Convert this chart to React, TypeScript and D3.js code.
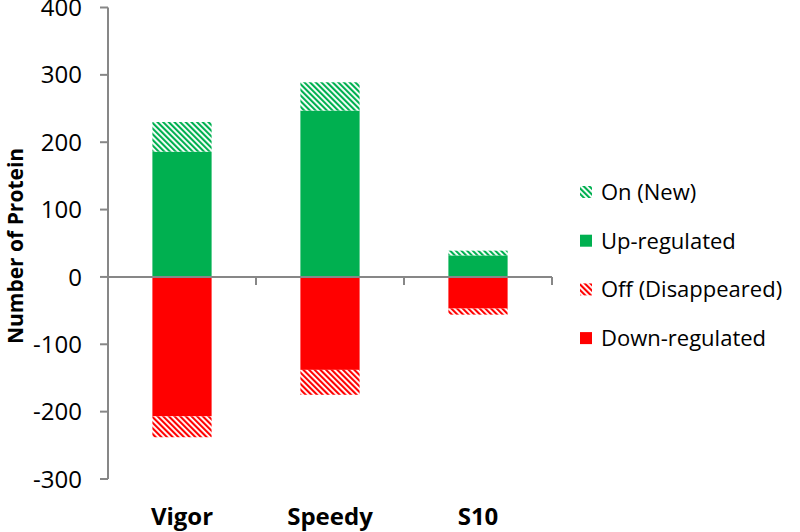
import React from "react";
import * as d3 from "d3";

const categories = ["Vigor", "Speedy", "S10"];
const onNew = [44, 42, 7];
const upRegulated = [186, 247, 32];
const offDisappeared = [-31, -37, -9];
const downRegulated = [-207, -138, -47];
const yTicks = [-300, -200, -100, 0, 100, 200, 300, 400];

const GREEN = "#00B050";
const RED = "#FF0000";
const AXIS = "#878787";
const FONT = "'Open Sans', sans-serif";

const seriesDefs = [
  { key: "up", label: "Up-regulated", values: upRegulated, color: GREEN, hatch: false },
  { key: "on", label: "On (New)", values: onNew, color: GREEN, hatch: true },
  { key: "down", label: "Down-regulated", values: downRegulated, color: RED, hatch: false },
  { key: "off", label: "Off (Disappeared)", values: offDisappeared, color: RED, hatch: true },
];
const legendOrder = ["on", "up", "off", "down"];

export default function App() {
  const W = 800, H = 532;
  const left = 108, right = 552, top = 7.5, bottom = 479;
  const x = d3.scaleBand().domain(categories).range([left, right]).paddingInner(0.6).paddingOuter(0.3);
  const xOuter = d3.scaleBand().domain(categories).range([left, right]);
  const y = d3.scaleLinear().domain([-300, 400]).range([bottom, top]);

  const rows = categories.map((c, i) => {
    const r: any = { cat: c };
    seriesDefs.forEach((s) => (r[s.key] = s.values[i]));
    return r;
  });
  const stack = d3.stack<any>().keys(seriesDefs.map((s) => s.key)).offset(d3.stackOffsetDiverging);
  const stacked = stack(rows);

  const fillFor = (s: any) => (s.hatch ? `url(#hatch-${s.key})` : s.color);

  return (
    <svg width={W} height={H} style={{ display: "block", position: "absolute", left: 0, top: 0 }}>
      <defs>
        {seriesDefs.filter((s) => s.hatch).map((s) => (
          <pattern key={s.key} id={`hatch-${s.key}`} patternUnits="userSpaceOnUse" width={4} height={4} patternTransform="rotate(-45)">
            <rect x={0} y={0} width={4} height={4} fill="#fff" />
            <rect x={0} y={0} width={2.1} height={4} fill={s.color} />
          </pattern>
        ))}
      </defs>
      <rect width={W} height={H} fill="#fff" />

      {stacked.map((layer, li) => {
        const s = seriesDefs[li];
        return layer.map((d, i) => {
          const y0 = y(Math.max(d[0], d[1]));
          const y1 = y(Math.min(d[0], d[1]));
          return (
            <rect key={`${s.key}-${i}`} x={x(categories[i])} width={x.bandwidth()} y={y0} height={Math.max(0, y1 - y0)} fill={fillFor(s)} />
          );
        });
      })}

      {/* y axis */}
      <line x1={left} x2={left} y1={top} y2={bottom} stroke={AXIS} strokeWidth={2} />
      {yTicks.map((t) => (
        <g key={t}>
          <line x1={left - 8} x2={left} y1={y(t)} y2={y(t)} stroke={AXIS} strokeWidth={2} />
          <text x={82} y={y(t)} dy="0.36em" textAnchor="end" fontFamily={FONT} fontSize={24} fill="#000">
            {t}
          </text>
        </g>
      ))}

      {/* zero line & category ticks */}
      <line x1={left} x2={right} y1={y(0)} y2={y(0)} stroke={AXIS} strokeWidth={2} />
      {categories.slice(1).map((c) => (
        <line key={c} x1={xOuter(c)} x2={xOuter(c)} y1={y(0)} y2={y(0) + 8} stroke={AXIS} strokeWidth={2} />
      ))}
      <line x1={right} x2={right} y1={y(0)} y2={y(0) + 8} stroke={AXIS} strokeWidth={2} />

      {/* category labels */}
      {categories.map((c) => (
        <text key={c} x={x(c)! + x.bandwidth() / 2} y={525} textAnchor="middle" fontFamily={FONT} fontWeight="bold" fontSize={24} fill="#000">
          {c}
        </text>
      ))}

      {/* y title */}
      <text transform={`translate(23, 246) rotate(-90)`} textAnchor="middle" fontFamily={FONT} fontWeight="bold" fontSize={21} fill="#000">
        Number of Protein
      </text>

      {/* legend */}
      {legendOrder.map((k, i) => {
        const s = seriesDefs.find((d) => d.key === k)!;
        const cy = 192 + i * 48.7;
        return (
          <g key={k}>
            <rect x={580} y={cy - 6} width={12} height={12} fill={fillFor(s)} />
            <text x={601} y={cy} dy="0.36em" fontFamily={FONT} fontSize={22} fill="#000">
              {s.label}
            </text>
          </g>
        );
      })}
    </svg>
  );
}
